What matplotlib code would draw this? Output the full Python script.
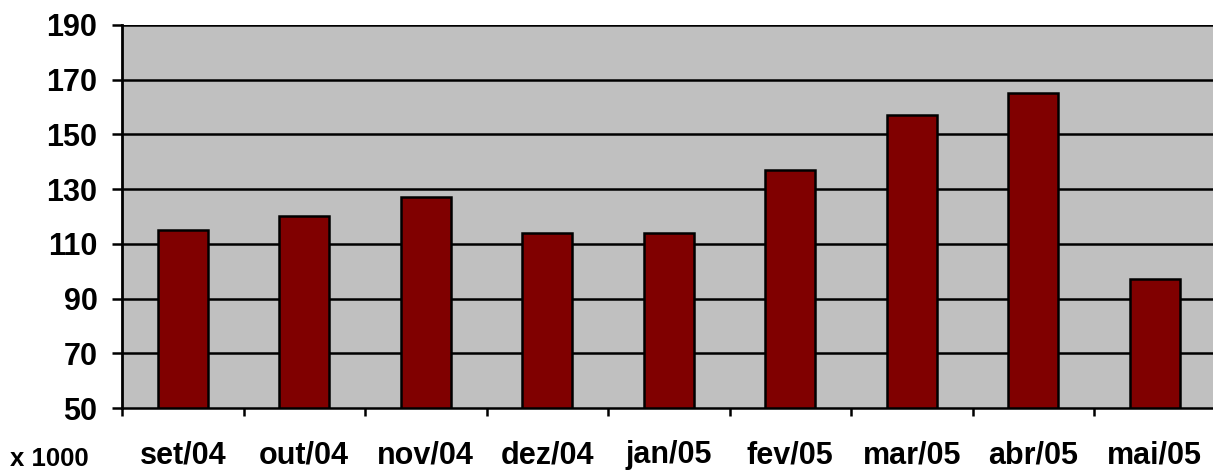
import matplotlib
matplotlib.use("Agg")
import matplotlib.pyplot as plt
import numpy as np

months = ["set/04", "out/04", "nov/04", "dez/04", "jan/05", "fev/05", "mar/05", "abr/05", "mai/05"]
values = [115, 120, 127, 114, 114, 137, 157, 165, 97]
y_ticks = [50, 70, 90, 110, 130, 150, 170, 190]

plt.rcParams["font.family"] = ["Liberation Sans", "DejaVu Sans"]
plt.rcParams["font.weight"] = "bold"

dpi = 100
fig = plt.figure(figsize=(12.13, 4.71), dpi=dpi)
ax = fig.add_axes([122 / 1213, 63 / 471, 1093.5 / 1213, 383 / 471])
ax.set_facecolor("#C0C0C0")

x = np.arange(len(months))
ax.set_xlim(-0.5, len(months) - 0.5)
ax.set_ylim(50, 190)

for yv in y_ticks[1:]:
    ax.axhline(yv, color="black", linewidth=1.8, zorder=1)

ax.bar(x, values, width=0.41, bottom=0, color="#800000", edgecolor="black",
       linewidth=1.8, zorder=2)

ax.set_yticks(y_ticks)
ax.set_yticklabels([str(v) for v in y_ticks], fontsize=22, fontweight="bold")
ax.tick_params(axis="y", length=7.2, width=1.8, pad=10.5)

# category ticks sit on the boundaries between months
ax.set_xticks(np.arange(len(months) + 1) - 0.5)
ax.set_xticklabels([])
ax.tick_params(axis="x", length=6, width=1.8, direction="out")
for xi, label in zip(x, months):
    ax.annotate(label, xy=(xi, 0), xycoords=("data", "axes fraction"),
                xytext=(0, -55 * 72 / dpi), textcoords="offset points",
                ha="center", va="baseline", fontsize=22, fontweight="bold")

ax.spines["right"].set_visible(False)
ax.spines["top"].set_visible(False)
ax.spines["left"].set_linewidth(2)
ax.spines["bottom"].set_linewidth(1.8)

fig.text(10 / 1213, 1 - 466 / 471, "x 1000", ha="left", va="baseline",
         fontsize=18.5, fontweight="bold")

fig.savefig("out.png", dpi=dpi)
